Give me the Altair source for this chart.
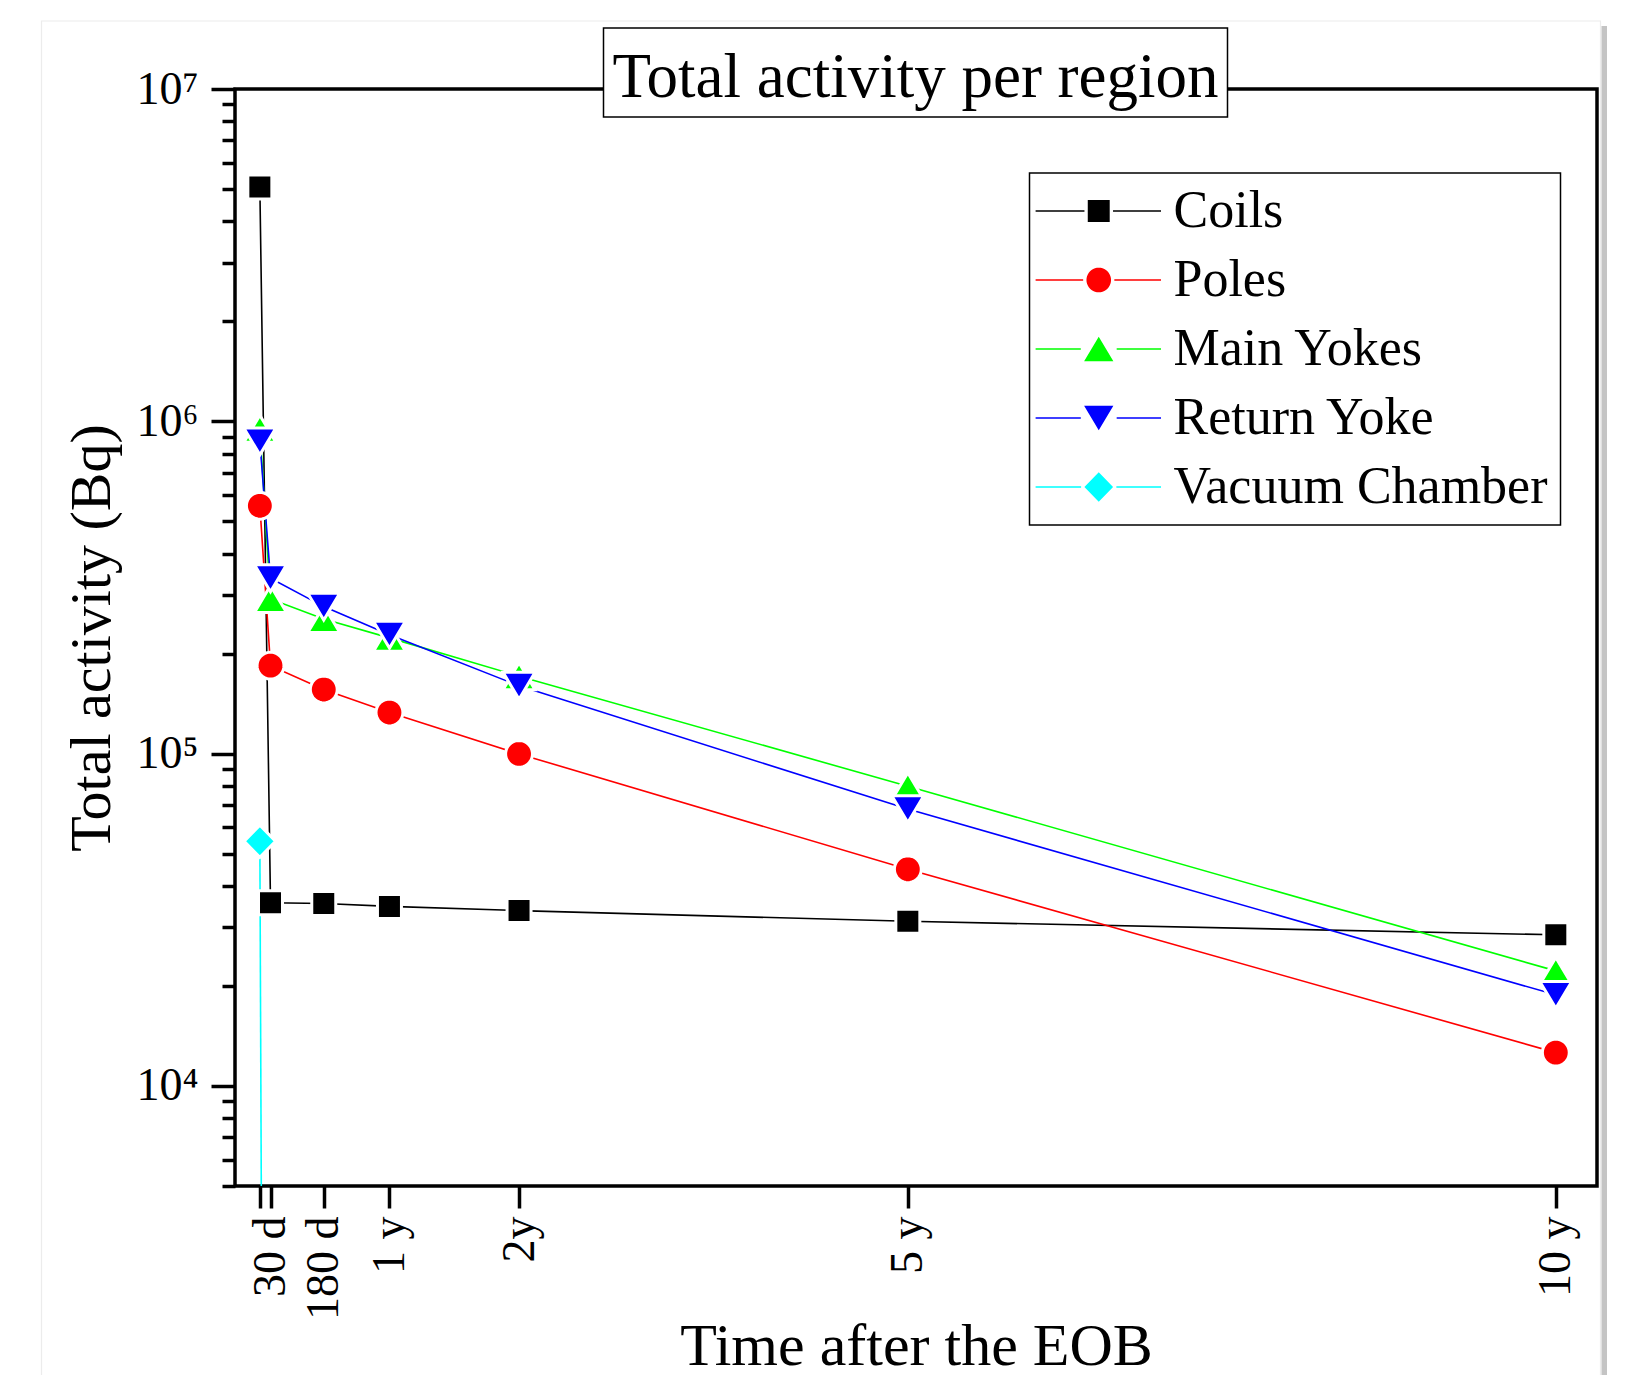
import math
import altair as alt
import pandas as pd

# ---------------- data ----------------
SERIES = ["Coils", "Poles", "Main Yokes", "Return Yoke", "Vacuum Chamber"]
COLORS = ["#000000", "#ff0000", "#00ff00", "#0000ff", "#00ffff"]
SHAPES = ["square", "circle", "triangle-up", "triangle-down", "diamond"]

DAYS = [0, 30, 180, 365, 730, 1825, 3650]
COILS = [5.07e6, 3.56e4, 3.54e4, 3.47e4, 3.37e4, 3.13e4, 2.85e4]
POLES = [5.57e5, 1.84e5, 1.56e5, 1.33e5, 9.98e4, 4.49e4, 1.26e4]
MAIN_YOKES = [9.5e5, 2.92e5, 2.54e5, 2.23e5, 1.71e5, 7.98e4, 2.22e4]
RETURN_YOKE = [8.7e5, 3.37e5, 2.77e5, 2.28e5, 1.60e5, 6.81e4, 1.88e4]
VACUUM_DAYS = [0, 30]
VACUUM = [5.45e4, 1e-3]

X_TICKS = [0, 30, 180, 365, 730, 1825, 3650]
X_TICK_LABELS = ["", "30 d", "180 d", "1 y", "2y", "5 y", "10 y"]
Y_MAJOR = [1e4, 1e5, 1e6, 1e7]
Y_MAJOR_LABELS = ["10⁴", "10⁵", "10⁶", "10⁷"]
Y_MINOR = [m * 10 ** k for k in range(3, 7) for m in range(2, 10) if 5000 <= m * 10 ** k <= 1e7]

TITLE = ["Total activity per region"]
X_TITLE = "Time after the EOB"
Y_TITLE = "Total activity (Bq)"

# ---------------- table ----------------
rows = []
for name, vals in zip(SERIES[:4], [COILS, POLES, MAIN_YOKES, RETURN_YOKE]):
    for d, v in zip(DAYS, vals):
        rows.append({"series": name, "days": d, "activity": v})
for d, v in zip(VACUUM_DAYS, VACUUM):
    rows.append({"series": SERIES[4], "days": d, "activity": v})
df = pd.DataFrame(rows)

FONT = "Liberation Serif"
W, H = 1362, 1097

x_label_map = "{" + ",".join(f"'{v}':'{t}'" for v, t in zip(X_TICKS, X_TICK_LABELS)) + "}"
y_label_map = "{" + ",".join(f"'{int(v)}':'{t}'" for v, t in zip(Y_MAJOR, Y_MAJOR_LABELS)) + "}"


# ---------------- marker geometry (unit space) ----------------
def f(v):
    return f"{v:.4f}"


def marker(kind, m, s):
    """marker path centred at (m, 0), s = unit scale factor"""
    if kind == "square":
        h = 0.75 * s
        return f"M{f(m-h)},{f(-h)}H{f(m+h)}V{f(h)}H{f(m-h)}Z", h
    if kind == "circle":
        r = 0.84 * s
        pts = [(m + r * math.cos(2 * math.pi * i / 40), r * math.sin(2 * math.pi * i / 40)) for i in range(40)]
        return "M" + "L".join(f"{f(x)},{f(y)}" for x, y in pts) + "Z", r
    if kind == "triangle-up":
        hw, hh = 1.0 * s, 0.84 * s
        return f"M{f(m)},{f(-hh)}L{f(m+hw)},{f(hh)}L{f(m-hw)},{f(hh)}Z", hw
    if kind == "triangle-down":
        hw, hh = 1.0 * s, 0.84 * s
        return f"M{f(m)},{f(hh)}L{f(m+hw)},{f(-hh)}L{f(m-hw)},{f(-hh)}Z", hw
    hw, hh = 0.98 * s, 1.0 * s
    return f"M{f(m-hw)},0L{f(m)},{f(-hh)}L{f(m+hw)},0L{f(m)},{f(hh)}Z", hw


POINT_PATHS = [marker(k, 0.0, 1.0)[0] for k in SHAPES]


def legend_path(kind):
    # line segment with the marker in its middle
    m, L, R, t, g = 2.84, -2.9, 8.5, 0.07, 0.3
    mk, hw = marker(kind, m, 1.33)
    left = f"M{f(L)},{f(-t)}H{f(m-hw-g)}V{f(t)}H{f(L)}Z"
    right = f"M{f(m+hw+g)},{f(-t)}H{f(R)}V{f(t)}H{f(m+hw+g)}Z"
    return left + right + mk


LEGEND_PATHS = [legend_path(k) for k in SHAPES]

# ---------------- axes ----------------
x_axis = alt.Axis(
    values=X_TICKS,
    labelExpr=x_label_map + "[datum.value + '']",
    labelAngle=270, labelAlign="right", labelBaseline="middle",
    labelFont=FONT, labelFontSize=46, labelColor="black", labelPadding=8,
    labelOverlap=False, labelFlush=False,
    tickSize=22, tickWidth=3.5, tickColor="black", domain=False, grid=False,
    title=X_TITLE, titleFont=FONT, titleFontSize=60, titleFontWeight="normal",
    titleColor="black", titleBaseline="alphabetic", titleY=178,
)
x_enc = alt.X("days:Q", scale=alt.Scale(domain=[-70, 3766], nice=False, zero=False), axis=x_axis)

y_scale = alt.Scale(type="log", domain=[5000, 1e7], nice=False)
y_major = alt.Axis(
    orient="left", values=Y_MAJOR,
    labelExpr=y_label_map + "[datum.value + '']",
    labelFont=FONT, labelFontSize=46, labelColor="black", labelPadding=13,
    labelOverlap=False, labelFlush=False, labelBaseline="middle",
    tickSize=24, tickWidth=3.5, tickColor="black", domain=False, grid=False,
    title=Y_TITLE, titleFont=FONT, titleFontSize=58, titleFontWeight="normal",
    titleColor="black", titleAngle=270, titleBaseline="alphabetic", titleX=-126,
)
y_minor = alt.Axis(
    orient="left", values=Y_MINOR, labels=False, tickSize=13, tickWidth=3.5,
    tickColor="black", domain=False, grid=False, title=None,
)

color_plain = alt.Color("series:N", scale=alt.Scale(domain=SERIES, range=COLORS), legend=None)

lines = alt.Chart(df).mark_line(strokeWidth=1.6, clip=True).encode(
    x=x_enc,
    y=alt.Y("activity:Q", scale=y_scale, axis=y_major),
    color=color_plain,
    detail="series:N",
)

points = alt.Chart(df).mark_point(
    filled=True, opacity=1, stroke="white", strokeWidth=3, size=1024, clip=True
).encode(
    x=x_enc,
    y=alt.Y("activity:Q", scale=y_scale, axis=y_minor),
    color=color_plain,
    shape=alt.Shape("series:N", scale=alt.Scale(domain=SERIES, range=POINT_PATHS), legend=None),
)

legend_layer = alt.Chart(df).transform_filter("datum.days < -1000").mark_point(
    filled=True, opacity=1, size=484
).encode(
    x=x_enc,
    y=alt.Y("activity:Q", scale=y_scale, axis=None),
    color=alt.Color("series:N", scale=alt.Scale(domain=SERIES, range=COLORS),
                    legend=alt.Legend(title=None, orient="none", legendX=794.5, legendY=84,
                                      symbolOpacity=1, symbolSize=484, symbolStrokeWidth=0,
                                      labelFont=FONT, labelFontSize=52, labelColor="black",
                                      labelOffset=80, labelLimit=0, rowPadding=17,
                                      padding=12, strokeColor="black", fillColor="white",
                                      cornerRadius=0)),
    shape=alt.Shape("series:N", scale=alt.Scale(domain=SERIES, range=LEGEND_PATHS)),
)

title_df = pd.DataFrame({"t": TITLE})
outer_frame = alt.Chart(title_df).mark_rect(fillOpacity=0, stroke="#ececec", strokeWidth=1.2).encode(
    x=alt.value(-193.5), x2=alt.value(1365.5), y=alt.value(-68), y2=alt.value(1320)
)
shadow = alt.Chart(title_df).mark_rect(fill="#c4c4c4", stroke=None).encode(
    x=alt.value(1366.5), x2=alt.value(1372), y=alt.value(-63), y2=alt.value(1320)
)
title_box = alt.Chart(title_df).mark_rect(fill="white", stroke="black", strokeWidth=1.5).encode(
    x=alt.value(368.5), x2=alt.value(992.5), y=alt.value(-61), y2=alt.value(28)
)
title_text = alt.Chart(title_df).mark_text(
    font=FONT, fontSize=63, align="center", baseline="alphabetic", color="black"
).encode(x=alt.value(680.5), y=alt.value(8), text="t:N")

chart = alt.layer(outer_frame, shadow, lines, points, legend_layer, title_box, title_text).resolve_scale(
    color="independent", shape="independent"
).resolve_axis(y="independent").properties(
    width=W, height=H,
    autosize=alt.AutoSizeParams(type="none"),
    padding={"left": 227, "top": 81, "right": 22, "bottom": 200},
    background="white",
).configure_view(stroke="black", strokeWidth=3.5).configure_legend(
    strokeWidth=1.5
)

chart.save("out.html", embed_options={"renderer": "svg", "actions": False})
